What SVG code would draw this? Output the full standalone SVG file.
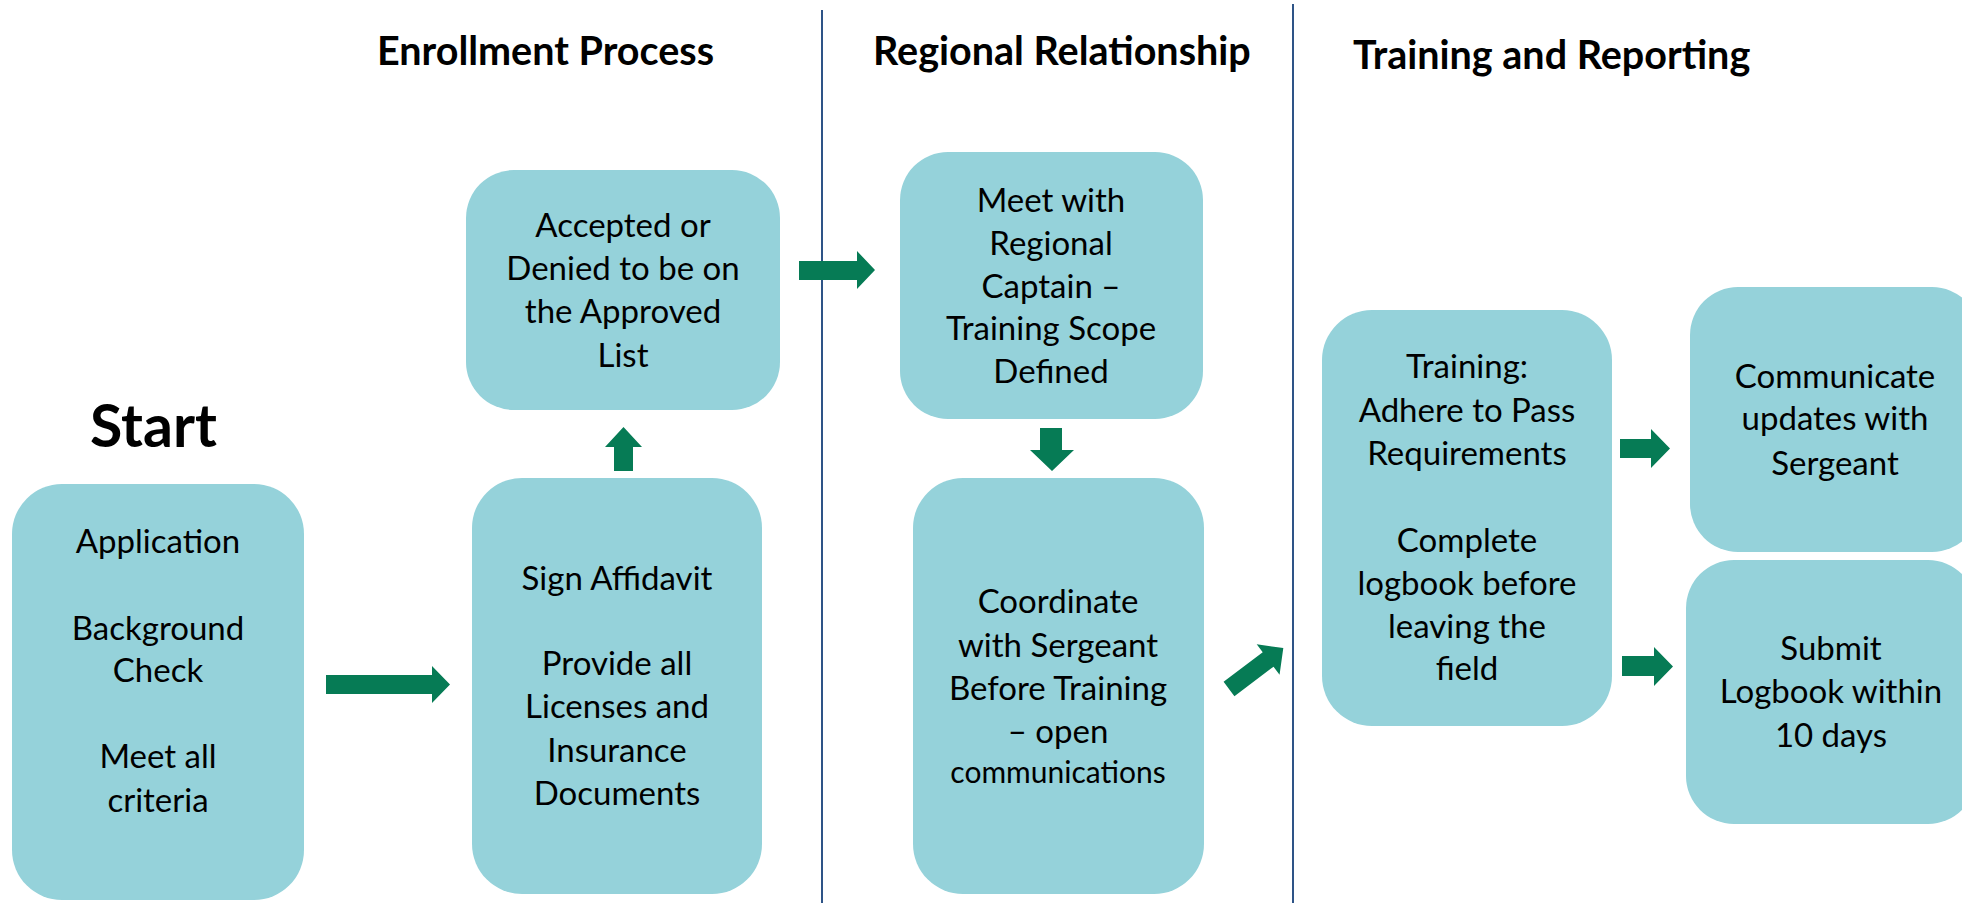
<svg xmlns="http://www.w3.org/2000/svg" width="1962" height="903" viewBox="0 0 1962 903">
<defs>
<style>
.box{fill:#95D2DA;}
.t{font-family:Lato,"Open Sans","Liberation Sans",sans-serif;font-size:33px;fill:#000;text-anchor:middle;}
.s{font-size:30px;}
.h{font-family:Lato,"Open Sans","Liberation Sans",sans-serif;font-size:39.5px;font-weight:bold;fill:#000;}
.arr{fill:#067B55;}
.div{stroke:#2E5487;stroke-width:2;}
</style>
</defs>
<rect width="1962" height="903" fill="#fff"/>
<g id="dividers">
<line class="div" x1="822" y1="10" x2="822" y2="903"/>
<line class="div" x1="1293" y1="4" x2="1293" y2="903"/>
</g>
<g id="titles">
<text class="h" x="377" y="65">Enrollment Process</text>
<text class="h" x="873" y="65">Regional Relationship</text>
<text class="h" x="1353" y="69">Training and Reporting</text>
<text class="h" x="90" y="447" style="font-size:59px">Start</text>
</g>
<g id="node-application">
<rect class="box" x="12" y="484" width="292" height="416" rx="50"/>
<text class="t" x="158" y="553">Application</text>
<text class="t" x="158" y="640">Background</text>
<text class="t" x="158" y="682">Check</text>
<text class="t" x="158" y="768">Meet all</text>
<text class="t" x="158" y="812">criteria</text>
</g>
<g id="node-affidavit">
<rect class="box" x="472" y="478" width="290" height="416" rx="50"/>
<text class="t" x="617" y="590">Sign Affidavit</text>
<text class="t" x="617" y="675">Provide all</text>
<text class="t" x="617" y="718">Licenses and</text>
<text class="t" x="617" y="762">Insurance</text>
<text class="t" x="617" y="805">Documents</text>
</g>
<g id="node-accepted">
<rect class="box" x="466" y="170" width="314" height="240" rx="48"/>
<text class="t" x="623" y="237">Accepted or</text>
<text class="t" x="623" y="280">Denied to be on</text>
<text class="t" x="623" y="323">the Approved</text>
<text class="t" x="623" y="367">List</text>
</g>
<g id="node-meet">
<rect class="box" x="900" y="152" width="303" height="267" rx="48"/>
<text class="t" x="1051" y="212">Meet with</text>
<text class="t" x="1051" y="255">Regional</text>
<text class="t" x="1051" y="298">Captain –</text>
<text class="t" x="1051" y="340">Training Scope</text>
<text class="t" x="1051" y="383">Defined</text>
</g>
<g id="node-coordinate">
<rect class="box" x="913" y="478" width="291" height="416" rx="50"/>
<text class="t" x="1058" y="613">Coordinate</text>
<text class="t" x="1058" y="657">with Sergeant</text>
<text class="t" x="1058" y="700">Before Training</text>
<text class="t" x="1058" y="743">– open</text>
<text class="t s" x="1058" y="783">communications</text>
</g>
<g id="node-training">
<rect class="box" x="1322" y="310" width="290" height="416" rx="50"/>
<text class="t" x="1467" y="378">Training:</text>
<text class="t" x="1467" y="422">Adhere to Pass</text>
<text class="t" x="1467" y="465">Requirements</text>
<text class="t" x="1467" y="552">Complete</text>
<text class="t" x="1467" y="595">logbook before</text>
<text class="t" x="1467" y="638">leaving the</text>
<text class="t" x="1467" y="680">field</text>
</g>
<g id="node-communicate">
<rect class="box" x="1690" y="287" width="290" height="265" rx="48"/>
<text class="t" x="1835" y="388">Communicate</text>
<text class="t" x="1835" y="430">updates with</text>
<text class="t" x="1835" y="475">Sergeant</text>
</g>
<g id="node-submit">
<rect class="box" x="1686" y="560" width="290" height="264" rx="48"/>
<text class="t" x="1831" y="660">Submit</text>
<text class="t" x="1831" y="703">Logbook within</text>
<text class="t" x="1831" y="747">10 days</text>
</g>
<g id="connectors">
<polygon class="arr" points="326,675 432,675 432,666 450,684.5 432,703 432,694 326,694"/>
<polygon class="arr" points="614,471 614,447 605,447 623.5,427 642,447 633,447 633,471"/>
<polygon class="arr" points="799,261 857,261 857,251 875,270 857,289 857,280 799,280"/>
<polygon class="arr" points="1040,428 1062,428 1062,450 1074,450 1052,471 1030,450 1040,450"/>
<polygon class="arr" transform="translate(1229,689) rotate(-37)" points="0,-9 49,-9 49,-19 68,0 49,19 49,9 0,9"/>
<polygon class="arr" points="1620,439 1651,439 1651,429 1670,448.5 1651,468 1651,458 1620,458"/>
<polygon class="arr" points="1622,656 1654,656 1654,647 1673,666.5 1654,686 1654,676 1622,676"/>
</g>
</svg>
